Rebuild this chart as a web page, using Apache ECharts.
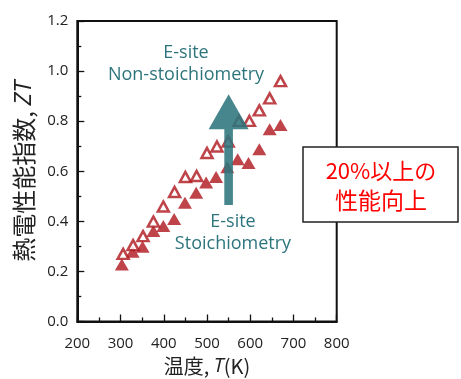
<!DOCTYPE html>
<html>
<head>
<meta charset="utf-8">
<script src="https://cdn.jsdelivr.net/npm/echarts@6/dist/echarts.min.js"></script>
<style>html,body{margin:0;padding:0;background:#fff;}#c{width:461px;height:379px;}</style>
</head>
<body>
<div id="c"></div>
<script>
// Data
var tempNonStoich = [306, 329, 352, 376, 399, 425, 450, 476, 500, 523, 549, 574, 598, 621, 645, 670];
var ztNonStoich   = [0.270, 0.305, 0.341, 0.399, 0.459, 0.517, 0.577, 0.581, 0.673, 0.699, 0.719, 0.801, 0.801, 0.843, 0.891, 0.960];
var tempStoich    = [303, 328, 351, 376, 399, 424, 449, 475, 498, 521, 547, 571, 596, 621, 645, 670];
var ztStoich      = [0.228, 0.279, 0.299, 0.361, 0.381, 0.409, 0.474, 0.514, 0.555, 0.577, 0.616, 0.648, 0.633, 0.688, 0.768, 0.785];
var xTicks = [200, 300, 400, 500, 600, 700, 800];
var yTicks = [0.0, 0.2, 0.4, 0.6, 0.8, 1.0, 1.2];
// arrow annotation: [T, ZT start, ZT end]
var arrowData = [[550, 0.465, 0.907]];

function zip(a, b) { return a.map(function (v, i) { return [v, b[i]]; }); }

var red = '#ae151d';
var teal = '#2d757d';
var font = '"Open Sans", "Noto Sans", sans-serif';
var cjk = '"Noto Sans CJK JP", "Noto Sans", sans-serif';

var chart = echarts.init(document.getElementById('c'), null, { renderer: 'canvas' });
chart.setOption({
  animation: false,
  backgroundColor: '#fff',
  grid: { left: 77.3, right: 124.3, top: 21, bottom: 57.5, show: true, borderColor: '#111', borderWidth: 2, backgroundColor: 'transparent', containLabel: false, outerBoundsMode: 'none' },
  xAxis: {
    type: 'value', min: xTicks[0], max: xTicks[xTicks.length - 1], interval: 100,
    axisLine: { lineStyle: { color: '#111', width: 2 } },
    axisTick: { inside: true, length: 7, lineStyle: { color: '#111', width: 1.3 } },
    minorTick: { show: true, splitNumber: 2, length: 4, lineStyle: { color: '#111', width: 1.3 } },
    splitLine: { show: false },
    axisLabel: { color: '#222', fontSize: 15, fontFamily: font, margin: 15 },
    name: '{a|温度, }{i|T}{a|(K)}', nameLocation: 'middle', nameGap: 35,
    nameTextStyle: { rich: {
      a: { fontSize: 20, fontFamily: cjk, color: '#222' },
      i: { fontSize: 20, fontFamily: font, fontStyle: 'italic', color: '#222' }
    } }
  },
  yAxis: {
    type: 'value', min: yTicks[0], max: yTicks[yTicks.length - 1], interval: 0.2,
    axisLine: { lineStyle: { color: '#111', width: 2 } },
    axisTick: { inside: true, length: 7, lineStyle: { color: '#111', width: 1.3 } },
    minorTick: { show: true, splitNumber: 2, length: 4, lineStyle: { color: '#111', width: 1.3 } },
    splitLine: { show: false },
    axisLabel: { color: '#222', fontSize: 15, fontFamily: font, margin: 9, formatter: function (v) { return v.toFixed(1); } },
    name: '{a|熱電性能指数, }{i|ZT}', nameLocation: 'middle', nameGap: 35, nameRotate: 90,
    nameTextStyle: { rich: {
      a: { fontSize: 24, fontFamily: cjk, color: '#222' },
      i: { fontSize: 24, fontFamily: font, fontStyle: 'italic', color: '#222' }
    } }
  },
  series: [
    {
      type: 'scatter', name: 'stoich', data: zip(tempStoich, ztStoich),
      symbol: 'triangle', symbolSize: [14, 12],
      itemStyle: { color: red }, z: 2
    },
    {
      type: 'scatter', name: 'nonstoich', data: zip(tempNonStoich, ztNonStoich),
      symbol: 'triangle', symbolSize: [11, 10],
      itemStyle: { color: '#fff', borderColor: red, borderWidth: 2.5 }, z: 3
    },
    {
      type: 'custom', name: 'arrow', data: arrowData, z: 5, silent: true,
      renderItem: function (params, api) {
        var p0 = api.coord([api.value(0), api.value(1)]);
        var p1 = api.coord([api.value(0), api.value(2)]);
        var headLen = 35, headHalf = 20, shaftHalf = 4.3;
        var x = p0[0];
        var baseY = p1[1] + headLen;
        return {
          type: 'polygon',
          shape: { points: [
            [x - shaftHalf, p0[1]], [x - shaftHalf, baseY], [x - headHalf, baseY],
            [x, p1[1]], [x + headHalf, baseY], [x + shaftHalf, baseY], [x + shaftHalf, p0[1]]
          ] },
          style: { fill: teal, opacity: 0.88 }
        };
      }
    }
  ],
  graphic: [
    { type: 'text', x: 186, y: 53, z: 10, style: { text: 'E-site', fill: teal, font: '18px ' + font, textAlign: 'center', textVerticalAlign: 'middle' } },
    { type: 'text', x: 186, y: 75, z: 10, style: { text: 'Non-stoichiometry', fill: teal, font: '18px ' + font, textAlign: 'center', textVerticalAlign: 'middle' } },
    { type: 'text', x: 233, y: 222, z: 10, style: { text: 'E-site', fill: teal, font: '18px ' + font, textAlign: 'center', textVerticalAlign: 'middle' } },
    { type: 'text', x: 233, y: 244, z: 10, style: { text: 'Stoichiometry', fill: teal, font: '18px ' + font, textAlign: 'center', textVerticalAlign: 'middle' } },
    { type: 'rect', x: 303, y: 147, z: 20, shape: { width: 155, height: 75 }, style: { fill: '#fff', stroke: '#222', lineWidth: 1.5 } },
    { type: 'text', x: 381, y: 171, z: 21, style: { text: '20%以上の', fill: '#ff0000', font: '22px ' + cjk, textAlign: 'center', textVerticalAlign: 'middle' } },
    { type: 'text', x: 381, y: 200, z: 21, style: { text: '性能向上', fill: '#ff0000', font: '23px ' + cjk, textAlign: 'center', textVerticalAlign: 'middle' } }
  ]
});
</script>
</body>
</html>
